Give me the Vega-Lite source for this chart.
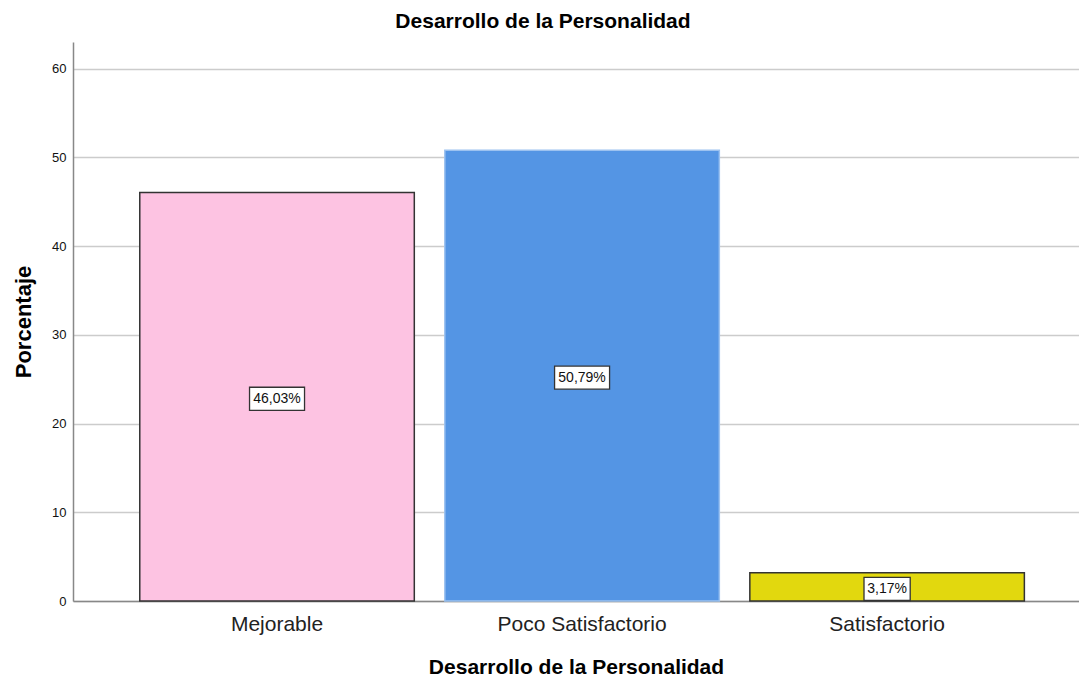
{
  "$schema": "https://vega.github.io/schema/vega-lite/v6.json",
  "width": 1006,
  "height": 559,
  "autosize": {"type": "none"},
  "padding": {"left": 73, "top": 42, "right": 0, "bottom": 78},
  "background": "white",
  "config": {
    "font": "Liberation Sans",
    "view": {"stroke": null}
  },
  "title": {
    "text": "Desarrollo de la Personalidad",
    "fontSize": 21,
    "fontWeight": "bold",
    "color": "#000000",
    "offset": 10,
    "dx": -33
  },
  "data": {
    "values": [
      {"categoria": "Mejorable", "porcentaje": 46.03, "etiqueta": "46,03%"},
      {"categoria": "Poco Satisfactorio", "porcentaje": 50.79, "etiqueta": "50,79%"},
      {"categoria": "Satisfactorio", "porcentaje": 3.17, "etiqueta": "3,17%"}
    ]
  },
  "transform": [
    {"calculate": "datum.porcentaje / 2", "as": "mitad"}
  ],
  "encoding": {
    "x": {
      "field": "categoria",
      "type": "nominal",
      "sort": null,
      "scale": {"paddingInner": 0.1, "paddingOuter": 0.199, "align": 0.55},
      "axis": {
        "title": "Desarrollo de la Personalidad",
        "titleFontSize": 21,
        "titleFontWeight": "bold",
        "titleColor": "#000000",
        "titlePadding": 22,
        "labelAngle": 0,
        "labelFontSize": 21,
        "labelColor": "#222222",
        "labelPadding": 12,
        "ticks": false,
        "domainColor": "#888888",
        "domainWidth": 1.5,
        "grid": false
      }
    }
  },
  "layer": [
    {
      "mark": {"type": "bar", "strokeWidth": 1.5},
      "encoding": {
        "y": {
          "field": "porcentaje",
          "type": "quantitative",
          "scale": {"domain": [0, 63], "nice": false},
          "axis": {
            "title": "Porcentaje",
            "titleFontSize": 22,
            "titleFontWeight": "bold",
            "titleColor": "#000000",
            "titlePadding": 16,
            "values": [0, 10, 20, 30, 40, 50, 60],
            "labelFontSize": 13,
            "labelColor": "#111111",
            "labelPadding": 7,
            "ticks": false,
            "domainColor": "#888888",
            "domainWidth": 1.5,
            "gridColor": "#cccccc",
            "gridWidth": 1.5
          }
        },
        "fill": {
          "field": "categoria",
          "type": "nominal",
          "scale": {"range": ["#fdc3e2", "#5495e4", "#e2d80e"]},
          "legend": null
        },
        "stroke": {
          "field": "categoria",
          "type": "nominal",
          "scale": {"range": ["#333333", "#9cc2f0", "#333333"]},
          "legend": null
        }
      }
    },
    {
      "mark": {
        "type": "point",
        "size": 3025,
        "filled": true,
        "fill": "white",
        "stroke": "#333333",
        "strokeWidth": 1.3,
        "opacity": 1,
        "yOffset": 2
      },
      "encoding": {
        "y": {"field": "mitad", "type": "quantitative"},
        "shape": {
          "field": "categoria",
          "type": "nominal",
          "scale": {"range": [
            "M-1,-0.42L1,-0.42L1,0.42L-1,0.42Z",
            "M-1,-0.42L1,-0.42L1,0.42L-1,0.42Z",
            "M-0.84,-0.42L0.84,-0.42L0.84,0.42L-0.84,0.42Z"
          ]},
          "legend": null
        }
      }
    },
    {
      "mark": {"type": "text", "fontSize": 14, "color": "#111111", "baseline": "middle", "align": "center", "yOffset": 2},
      "encoding": {
        "y": {"field": "mitad", "type": "quantitative"},
        "text": {"field": "etiqueta", "type": "nominal"}
      }
    }
  ]
}
